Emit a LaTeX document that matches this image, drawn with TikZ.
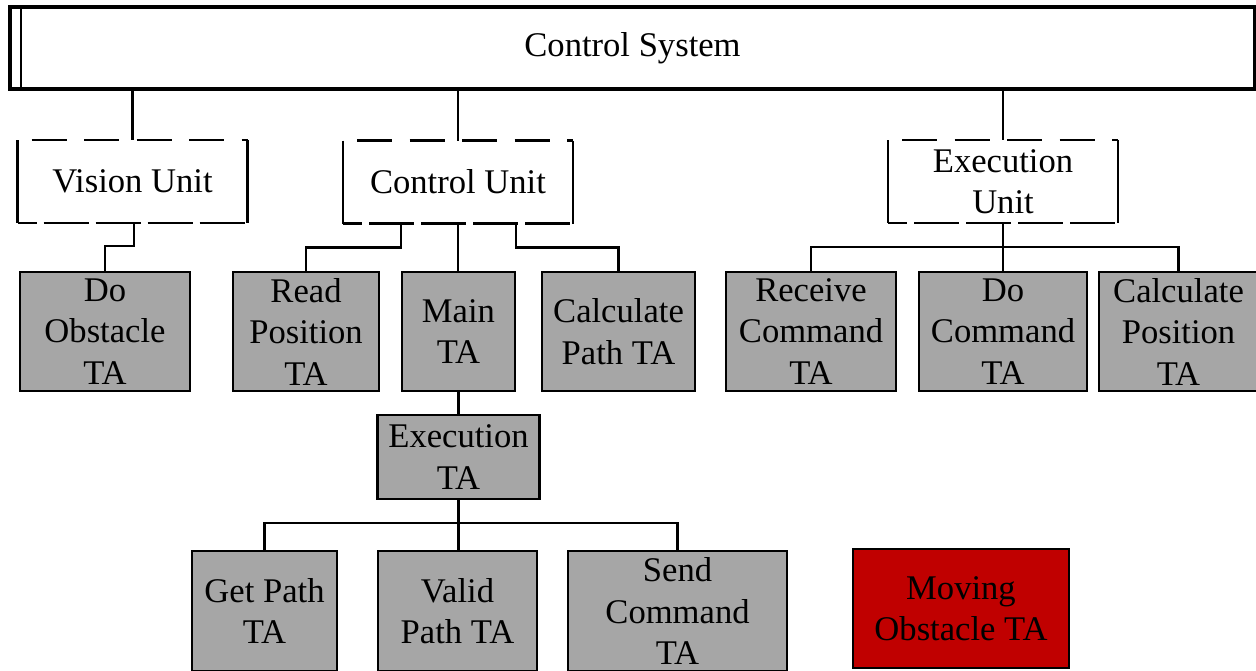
\documentclass[tikz,border=0pt]{standalone}
\usepackage{fontspec}
\setmainfont{Liberation Serif}
\definecolor{taGray}{HTML}{A6A6A6}
\definecolor{taRed}{HTML}{C00000}
\begin{document}
\begin{tikzpicture}[x=1pt,y=-1pt,
  every node/.style={inner sep=0pt,outer sep=0pt,align=center,
    font=\rmfamily\fontsize{34.6}{41.5}\selectfont},
  sysbox/.style={draw=black,line width=3.4pt,fill=white},
  unitbox/.style={minimum width=230pt,minimum height=83pt},
  sideline/.style={line width=2.6pt},
  topdash/.style={line width=2.6pt,dash pattern=on 35pt off 17.5pt,dash phase=38.5pt},
  botdash/.style={line width=2.6pt,dash pattern=on 45pt off 7pt,dash phase=26pt},
  tabox/.style={draw=black,line width=2.6pt,fill=taGray,minimum height=119pt},
  alertbox/.style={draw=black,line width=2.6pt,fill=taRed,minimum height=119pt},
  link/.style={line width=2.2pt}
]
\path[use as bounding box,clip] (0,0) rectangle (1256,670);

% top level system box with double left edge
\node[sysbox,minimum width=1245pt,minimum height=82pt] (sys) at (632.5,48) {Control System};
\draw[line width=2.6pt] ([xshift=11pt]sys.north west) -- ([xshift=11pt]sys.south west);

% units
\node[unitbox] (vision) at (132.5,181.5) {Vision Unit};
\node[unitbox] (control) at (458,182) {Control Unit};
\node[unitbox] (execunit) at (1003,181.5) {Execution\\Unit};
\foreach \u in {vision,control,execunit}{
  \draw[sideline] (\u.north west) -- (\u.south west);
  \draw[sideline] (\u.north east) -- (\u.south east);
  \draw[topdash] (\u.north west) -- (\u.north east);
  \draw[botdash] (\u.south west) -- (\u.south east);
}

% task agents
\node[tabox,minimum width=170pt] (doobst) at (105,331.5) {Do\\Obstacle\\TA};
\node[tabox,minimum width=146pt] (readpos) at (306,331.5) {Read\\Position\\TA};
\node[tabox,minimum width=113pt] (main) at (458.5,331.5) {Main\\TA};
\node[tabox,minimum width=153pt] (calcpath) at (618.5,331.5) {Calculate\\Path TA};
\node[tabox,minimum width=170pt] (recv) at (811,331.5) {Receive\\Command\\TA};
\node[tabox,minimum width=168pt] (docmd) at (1003,331.5) {Do\\Command\\TA};
\node[tabox,minimum width=159pt] (calcpos) at (1178.5,331.5) {Calculate\\Position\\TA};
\node[tabox,minimum width=162pt,minimum height=84pt] (execta) at (458.5,457) {Execution\\TA};
\node[tabox,minimum width=145pt,minimum height=120pt] (getpath) at (264.5,611) {Get Path\\TA};
\node[tabox,minimum width=159pt,minimum height=120pt] (validpath) at (457.5,611) {Valid\\Path TA};
\node[tabox,minimum width=219pt,minimum height=120pt] (sendcmd) at (677.5,611) {Send\\Command\\TA};
\node[alertbox,minimum width=216pt] (moving) at (961,608.5) {Moving\\Obstacle TA};

% connectors from the system box
\draw[link] (sys.south -| vision.north) -- (vision.north);
\draw[link] (sys.south -| control.north) -- (control.north);
\draw[link] (sys.south -| execunit.north) -- (execunit.north);

% vision unit
\draw[link] ([xshift=1.5pt]vision.south) -- ++(0,23) -| (doobst.north);

% control unit
\draw[link] ([xshift=-57pt]control.south) -- ++(0,24) -| (readpos.north);
\draw[link] (control.south) -- (control.south |- main.north);
\draw[link] ([xshift=58pt]control.south) -- ++(0,24) -| (calcpath.north);

% execution unit
\draw[link] (execunit.south) -- (docmd.north);
\draw[link] (recv.north) -- ++(0,-25) -| (calcpos.north);

% main task agent
\draw[link] (main.south) -- (execta.north);
\draw[link] (execta.south) -- (execta.south |- validpath.north);
\draw[link] (getpath.north) -- ++(0,-28) -| (sendcmd.north);
\end{tikzpicture}
\end{document}
